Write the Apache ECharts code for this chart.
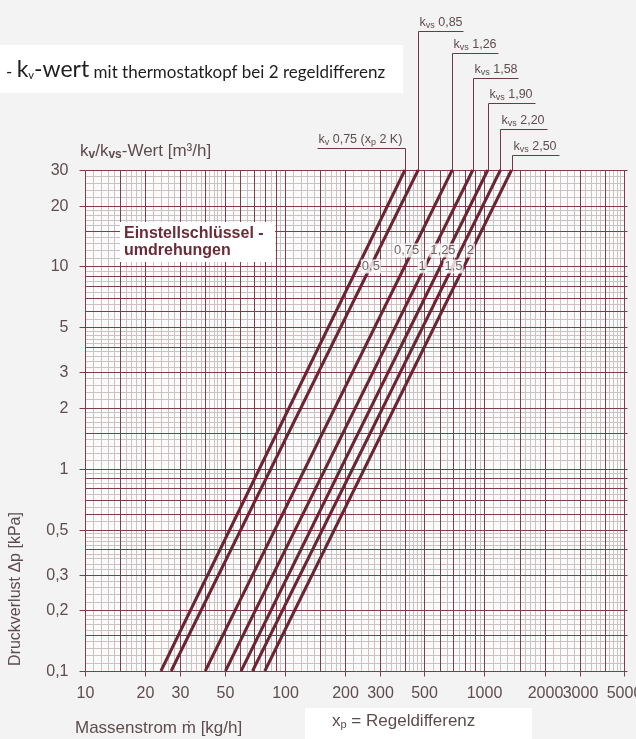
<!DOCTYPE html>
<html>
<head>
<meta charset="utf-8">
<script src="https://cdn.jsdelivr.net/npm/echarts@6/dist/echarts.min.js"></script>
<style>
  html, body { margin: 0; padding: 0; background: #f3f3f3; }
  #chart { width: 636px; height: 739px; }
</style>
</head>
<body>
<div id="chart"></div>
<script>
// ---------- data ----------
const lineNames   = ['kv 0,75 (xp 2 K)', 'kvs 0,85', 'kvs 1,26', 'kvs 1,58', 'kvs 1,90', 'kvs 2,20', 'kvs 2,50'];
const massAtMinDp = [24, 27, 40, 50.5, 60.5, 69, 79.5];        // kg/h where line meets 0,1 kPa
const massAtMaxDp = [400, 466, 690, 875, 1040, 1203, 1367];    // kg/h where line meets 30 kPa
const dpRange     = [0.1, 30];                                 // kPa
const massRange   = [10, 5000];                                // kg/h

const xTickValues = [10, 20, 30, 50, 100, 200, 300, 500, 1000, 2000, 3000, 5000];
const yTickValues = [0.1, 0.2, 0.3, 0.5, 1, 2, 3, 5, 10, 20, 30];

const turnLabels  = ['0,5', '0,75', '1', '1,25', '1,5', '2'];
const turnLabelM  = [270, 408, 488, 620, 700, 850];
const turnLabelDp = [10, 12, 10, 12, 10, 12];

const topLabelMain = ['0,75 (x', '0,85', '1,26', '1,58', '1,90', '2,20', '2,50'];
const topLabelSub  = ['v', 'vs', 'vs', 'vs', 'vs', 'vs', 'vs'];

// grid (log paper) mantissas
const decadesX  = [10, 100, 1000];
const decadesY  = [0.1, 1, 10];
const majorMant = [1, 1.5, 2, 3, 4, 5, 6, 7, 8, 9];
const minorMant = [1.1, 1.2, 1.3, 1.4, 1.6, 1.7, 1.8, 1.9, 2.2, 2.4, 2.6, 2.8, 3.2, 3.4, 3.6, 3.8,
                   4.2, 4.4, 4.6, 4.8, 5.5, 6.5, 7.5, 8.5, 9.5];

// ---------- styling / layout ----------
const FONT = '"Liberation Sans", Arial, sans-serif';
const TXT = '#5e4c4e';
const DARK = '#7b3e4a';
const LIGHT = '#cdc2c3';
const CURVE = '#6b2431';
const PLOT_BG = '#fcfbfb';
// label leader layout: underline pixel y, direction, underline length
const topLabelLayout = [
  { uy: 148, dir: -1, len: 88 },
  { uy: 31,  dir: 1, len: 45 },
  { uy: 53,  dir: 1, len: 46 },
  { uy: 78,  dir: 1, len: 45 },
  { uy: 103, dir: 1, len: 47 },
  { uy: 129, dir: 1, len: 47 },
  { uy: 155, dir: 1, len: 47 }
];

function expand(decades, mant, lo, hi) {
  const out = [];
  decades.forEach(d => mant.forEach(m => {
    const v = +(d * m).toPrecision(6);
    if (v >= lo * 0.9999 && v <= hi * 1.0001) out.push(v);
  }));
  return out;
}
const xMajor = expand(decadesX, majorMant, massRange[0], massRange[1]);
const xMinor = expand(decadesX, minorMant, massRange[0], massRange[1]);
const yMajor = expand(decadesY, majorMant, dpRange[0], dpRange[1]);
const yMinor = expand(decadesY, minorMant, dpRange[0], dpRange[1]);

const fmt = v => String(v).replace('.', ',');

function ln(x1, y1, x2, y2, stroke, w) {
  return { type: 'line', shape: { x1, y1, x2, y2 }, style: { stroke, lineWidth: w || 1 }, silent: true };
}
function txt(text, x, y, align, valign, size) {
  return {
    type: 'text', silent: true,
    style: {
      text, x, y, fill: TXT, font: (size || 16) + 'px ' + FONT,
      align, textAlign: align, verticalAlign: valign, textVerticalAlign: valign
    }
  };
}

const chart = echarts.init(document.getElementById('chart'), null, { renderer: 'canvas' });

const curveSeries = lineNames.map((name, i) => ({
  name, type: 'line', z: 3, symbol: 'none', silent: true,
  lineStyle: { color: CURVE, width: 3 },
  data: [[massAtMinDp[i], dpRange[0]], [massAtMaxDp[i], dpRange[1]]]
}));

const richLabel = {
  m: { fontSize: 12.5, lineHeight: 16, verticalAlign: 'middle', fontFamily: FONT, fill: TXT },
  s: { fontSize: 9, lineHeight: 9, verticalAlign: 'bottom', fontFamily: FONT, fill: TXT }
};

const option = {
  animation: false,
  backgroundColor: '#f3f3f3',
  grid: { left: 85, top: 170, width: 539, height: 501, containLabel: false, outerBoundsMode: 'none' },
  xAxis: {
    type: 'log', logBase: 10, min: massRange[0], max: massRange[1],
    axisLine: { show: false }, axisTick: { show: false }, axisLabel: { show: false }, splitLine: { show: false }
  },
  yAxis: {
    type: 'log', logBase: 10, min: dpRange[0], max: dpRange[1],
    axisLine: { show: false }, axisTick: { show: false }, axisLabel: { show: false }, splitLine: { show: false }
  },
  graphic: [
    // top-left note box
    { type: 'rect', left: 0, top: 45, shape: { width: 403, height: 48 }, style: { fill: '#ffffff' }, silent: true },
    { type: 'text', x: 6, y: 81, silent: true,
      style: {
        text: '{d|- }{k|k}{ks|v}{k|-wert}{t| mit thermostatkopf bei 2 regeldifferenz}',
        verticalAlign: 'bottom', textVerticalAlign: 'bottom',
        rich: {
          d: { fontSize: 17, lineHeight: 17, fontFamily: 'Lato', fill: '#1e1e1e', verticalAlign: 'bottom' },
          k: { fontSize: 23, lineHeight: 23, fontFamily: 'Lato', fill: '#1e1e1e', verticalAlign: 'bottom' },
          ks: { fontSize: 11, lineHeight: 8, fontFamily: 'Lato', fill: '#1e1e1e', verticalAlign: 'bottom' },
          t: { fontSize: 17, lineHeight: 17, fontFamily: 'Lato', fill: '#1e1e1e', verticalAlign: 'bottom' }
        }
      } },
    // y-axis title (top)
    { type: 'text', x: 80, y: 151, silent: true,
      style: {
        text: '{m|k}{s|v}{m|/k}{s|vs}{m|-Wert [m³/h]}',
        verticalAlign: 'middle', textVerticalAlign: 'middle',
        rich: {
          m: { fontSize: 17, lineHeight: 20, verticalAlign: 'middle', fontFamily: FONT, fill: TXT },
          s: { fontSize: 12, lineHeight: 12, verticalAlign: 'bottom', fontFamily: FONT, fill: TXT, fontWeight: 'bold' }
        }
      } },
    // y-axis title (rotated)
    { type: 'text', x: 16, y: 589, rotation: Math.PI / 2, silent: true,
      style: { text: 'Druckverlust Δp [kPa]', font: '16px ' + FONT, fill: TXT,
               align: 'center', textAlign: 'center', verticalAlign: 'middle', textVerticalAlign: 'middle' } },
    // x-axis title
    { type: 'text', x: 75, y: 728, silent: true,
      style: { text: 'Massenstrom ṁ [kg/h]', font: '17px ' + FONT, fill: TXT,
               align: 'left', textAlign: 'left', verticalAlign: 'middle', textVerticalAlign: 'middle' } },
    // x_p note
    { type: 'rect', left: 305, top: 708, shape: { width: 227, height: 31 }, style: { fill: '#ffffff' }, silent: true },
    { type: 'text', x: 332, y: 721, silent: true,
      style: {
        text: '{m|x}{s|p}{m| = Regeldifferenz}',
        verticalAlign: 'middle', textVerticalAlign: 'middle',
        rich: {
          m: { fontSize: 17, lineHeight: 19, verticalAlign: 'middle', fontFamily: FONT, fill: TXT },
          s: { fontSize: 11, lineHeight: 11, verticalAlign: 'bottom', fontFamily: FONT, fill: TXT }
        }
      } },
    // Einstellschlüssel box
    { type: 'rect', left: 120, top: 222, z: 10, shape: { width: 155, height: 40 }, style: { fill: '#ffffff' }, silent: true },
    { type: 'text', x: 124, y: 242, z: 11, silent: true,
      style: { text: 'Einstellschlüssel -\numdrehungen', font: 'bold 16px ' + FONT, fill: '#6b2b37', lineHeight: 17,
               align: 'left', textAlign: 'left', verticalAlign: 'middle', textVerticalAlign: 'middle' } }
  ],
  series: [
    {
      type: 'custom', name: 'grid', z: 1, silent: true, clip: false,
      data: [[massRange[0], dpRange[0]]],
      renderItem: function (params, api) {
        const tl = api.coord([massRange[0], dpRange[1]]);
        const br = api.coord([massRange[1], dpRange[0]]);
        const L = Math.round(tl[0]) + 0.5, T = Math.round(tl[1]) + 0.5;
        const R = Math.round(br[0]) + 0.5, B = Math.round(br[1]) + 0.5;
        const px = v => Math.round(api.coord([v, dpRange[0]])[0]) + 0.5;
        const py = v => Math.round(api.coord([massRange[0], v])[1]) + 0.5;
        const kids = [{ type: 'rect', shape: { x: L, y: T, width: R - L, height: B - T }, style: { fill: PLOT_BG }, silent: true }];
        xMinor.forEach(v => { const x = px(v); kids.push(ln(x, T, x, B, LIGHT)); });
        yMinor.forEach(v => { const y = py(v); kids.push(ln(L, y, R, y, LIGHT)); });
        xMajor.forEach(v => { const x = px(v); kids.push(ln(x, T, x, B, DARK)); });
        yMajor.forEach(v => { const y = py(v); kids.push(ln(L, y, R + 3, y, DARK)); });
        // ticks and tick labels
        xTickValues.forEach(v => {
          const x = px(v);
          kids.push(ln(x, B, x, B + 5, DARK));
          kids.push(txt(fmt(v), x, B + 22, 'center', 'middle', 16));
        });
        yTickValues.forEach(v => {
          const y = py(v);
          kids.push(ln(L - 6, y, L, y, DARK));
          kids.push(txt(fmt(v), L - 17, y, 'right', 'middle', 16));
        });
        return { type: 'group', children: kids };
      }
    },
    ...curveSeries,
    {
      type: 'custom', name: 'leaders', z: 4, silent: true, clip: false,
      data: massAtMaxDp.map((m, i) => [m, dpRange[1], i]),
      renderItem: function (params, api) {
        const i = api.value(2);
        const p = api.coord([api.value(0), api.value(1)]);
        const lay = topLabelLayout[i];
        const x = Math.round(p[0]) + 0.5;
        const uy = lay.uy + 0.5;
        const kids = [
          ln(x, p[1], x, uy, '#6b3a44'),
          ln(x, uy, x + lay.dir * lay.len, uy, '#6b3a44')
        ];
        const tx = lay.dir > 0 ? x + 1 : x - lay.len + 1;
        const text = i === 0
          ? '{m|k}{s|v}{m| 0,75 (x}{s|p}{m| 2 K)}'
          : '{m|k}{s|' + topLabelSub[i] + '}{m| ' + topLabelMain[i] + '}';
        kids.push({ type: 'text', silent: true,
          style: { text, x: tx, y: uy - 1, verticalAlign: 'bottom', textVerticalAlign: 'bottom',
                   align: 'left', textAlign: 'left', rich: richLabel } });
        return { type: 'group', children: kids };
      }
    },
    {
      type: 'scatter', name: 'turns', z: 6, silent: true, symbolSize: 0,
      data: turnLabels.map((t, i) => ({ name: t, value: [turnLabelM[i], turnLabelDp[i]] })),
      label: {
        show: true, position: 'inside', formatter: '{b}', fontSize: 13, fontFamily: FONT, color: '#4e3e40',
        backgroundColor: '#ffffff', padding: [1, 1, 0, 1]
      }
    }
  ]
};
chart.setOption(option);
</script>
</body>
</html>
